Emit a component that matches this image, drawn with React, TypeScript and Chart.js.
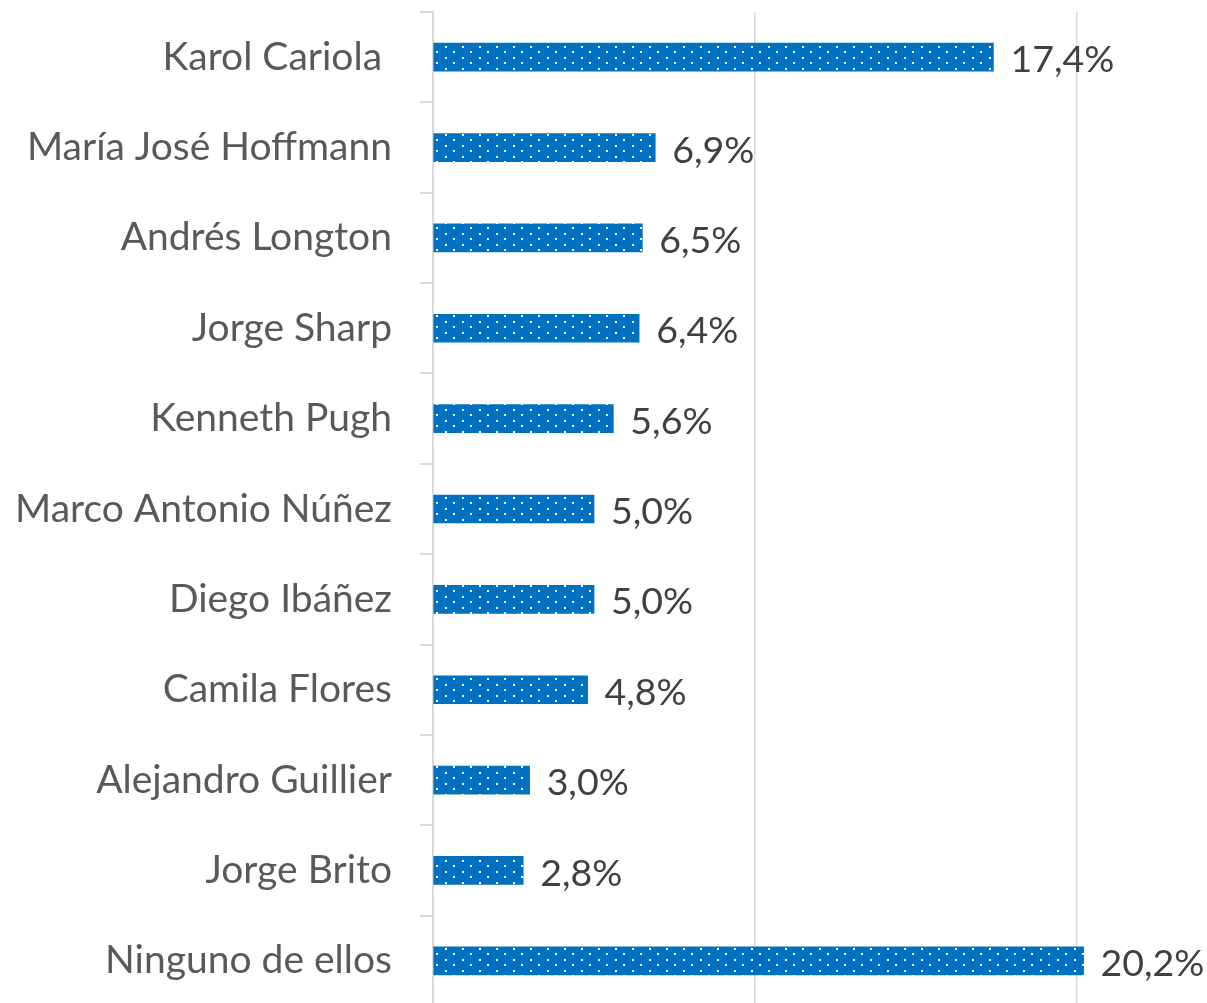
import React, { useEffect, useRef } from "react";
import { Chart, registerables } from "chart.js";

Chart.register(...registerables);

const categories = [
  "Karol Cariola ",
  "María José Hoffmann",
  "Andrés Longton",
  "Jorge Sharp",
  "Kenneth Pugh",
  "Marco Antonio Núñez",
  "Diego Ibáñez",
  "Camila Flores",
  "Alejandro Guillier",
  "Jorge Brito",
  "Ninguno de ellos",
];
const values = [17.4, 6.9, 6.5, 6.4, 5.6, 5.0, 5.0, 4.8, 3.0, 2.8, 20.2];
const valueLabels = ["17,4%", "6,9%", "6,5%", "6,4%", "5,6%", "5,0%", "5,0%", "4,8%", "3,0%", "2,8%", "20,2%"];
const gridValues = [0, 10, 20];

const FONT = "Lato, 'Open Sans', sans-serif";

function makePattern(): CanvasPattern | string {
  const c = document.createElement("canvas");
  c.width = 17;
  c.height = 11;
  const g = c.getContext("2d");
  if (!g) return "#0070C0";
  g.fillStyle = "#0070C0";
  g.fillRect(0, 0, 17, 11);
  g.fillStyle = "#ffffff";
  g.fillRect(3, 2, 2, 2);
  g.fillRect(11, 7, 2, 2);
  const p = g.createPattern(c, "repeat");
  return p || "#0070C0";
}

const labelPlugin = {
  id: "valueLabels",
  afterDatasetsDraw(chart: any) {
    const ctx = chart.ctx;
    const meta = chart.getDatasetMeta(0);
    ctx.save();
    ctx.font = `37.5px ${FONT}`;
    ctx.fillStyle = "#404040";
    ctx.textAlign = "left";
    ctx.textBaseline = "middle";
    meta.data.forEach((bar: any, i: number) => {
      ctx.fillText(valueLabels[i], bar.x + 17, bar.y + 3);
    });
    ctx.restore();
  },
};

export default function App() {
  const ref = useRef<HTMLCanvasElement | null>(null);
  useEffect(() => {
    if (!ref.current) return;
    const chart = new Chart(ref.current, {
      type: "bar",
      data: {
        labels: categories,
        datasets: [
          {
            data: values,
            backgroundColor: makePattern() as any,
            borderWidth: 0,
            barThickness: 28,
          },
        ],
      },
      options: {
        indexAxis: "y",
        animation: false,
        responsive: false,
        maintainAspectRatio: false,
        layout: { padding: { top: 12, right: 1, bottom: 0, left: 0 } },
        plugins: { legend: { display: false }, tooltip: { enabled: false } },
        scales: {
          x: {
            min: 0,
            max: 24,
            ticks: { display: false, stepSize: 10 },
            afterBuildTicks: (scale: any) => {
              scale.ticks = gridValues.map((v) => ({ value: v }));
            },
            afterFit: (scale: any) => {
              scale.height = 0;
              scale.paddingLeft = 0;
              scale.paddingRight = 0;
            },
            grid: { color: "#d9d9d9", lineWidth: 1.5, drawTicks: false },
            border: { display: false },
          },
          y: {
            afterFit: (scale: any) => {
              scale.width = 433;
              scale.paddingTop = 0;
              scale.paddingBottom = 0;
            },
            ticks: {
              color: "#595959",
              font: { family: FONT, size: 39 },
              padding: 28,
            },
            grid: { display: true, drawOnChartArea: false, drawTicks: true, tickLength: 13, color: "#d9d9d9", lineWidth: 2, offset: true },
            border: { display: true, color: "#d9d9d9", width: 2 },
          },
        },
      },
      plugins: [labelPlugin],
    });
    return () => chart.destroy();
  }, []);
  return (
    <div style={{ position: "fixed", left: 0, top: 0, width: 1207, height: 1006, overflow: "hidden", background: "#fff" }}>
      <canvas ref={ref} width={1207} height={1006} style={{ width: 1207, height: 1006, display: "block" }} />
    </div>
  );
}
